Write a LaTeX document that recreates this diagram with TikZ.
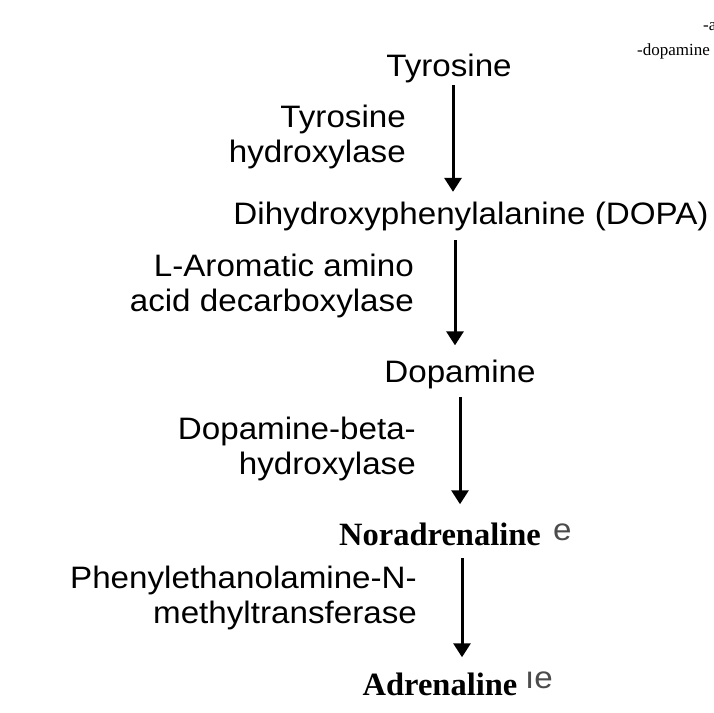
\documentclass[tikz,border=0pt]{standalone}
\usepackage{fontspec}
\setmainfont{Liberation Serif}
\newfontfamily\labelfont[FakeStretch=1.07]{Liberation Sans}
\usetikzlibrary{arrows.meta,positioning}

\begin{document}
\begin{tikzpicture}[x=1pt, y=-1pt,
  compound/.style={inner sep=0pt, font=\labelfont\fontsize{31}{34}\selectfont},
  hormone/.style={inner sep=0pt, font=\bfseries\fontsize{32.5}{36}\selectfont},
  enzyme/.style={inner sep=0pt, align=right, font=\labelfont\fontsize{31}{34.5}\selectfont},
  ghost/.style={inner sep=0pt, text=black!70, font=\labelfont\fontsize{31}{34}\selectfont},
  note/.style={inner sep=0pt, font=\fontsize{17}{20}\selectfont},
  flow/.style={-{Triangle[length=14pt,width=17pt]}, line width=3pt}]
\useasboundingbox[fill=white] (0,0) rectangle (714,712);
% pathway
\node[compound, anchor=base] (tyr)   at (449,76)  {Tyrosine};
\node[compound, anchor=base] (dopa)  at (471,224) {Dihydroxyphenylalanine (DOPA)};
\node[compound, anchor=base] (dopam) at (460,382) {Dopamine};
\node[hormone,  anchor=base] (nor)   at (440,545) {Noradrenaline};
\node[hormone,  anchor=base] (adr)   at (440,695) {Adrenaline};
% enzymes (base = last line)
\node[enzyme, anchor=base east] (th)   at (406,162) {Tyrosine\\hydroxylase};
\node[enzyme, anchor=base east] (aadc) at (414,311) {L-Aromatic amino\\acid decarboxylase};
\node[enzyme, anchor=base east] (dbh)  at (416,474) {Dopamine-beta-\\hydroxylase};
\node[enzyme, anchor=base east] (pnmt) at (417,623) {Phenylethanolamine-N-\\methyltransferase};
% leftovers of the scan
\node[ghost, anchor=base west] (nore) at (553,540) {e};
\node[ghost, anchor=base west] (adre) at (525,688) {ıe};
\node[note, anchor=base west] (na)    at (703,30)  {-a};
\node[note, anchor=base east] (nd)    at (710,55)  {-dopamine};
% steps
\draw[flow, shorten <=2.5pt, shorten >=9.5pt] ([xshift=4pt]tyr.south) -- ([xshift=4pt]tyr.south |- dopa.north);
\draw[flow, shorten <=9.5pt, shorten >=14pt] ([xshift=-16pt]dopa.south) -- ([xshift=-16pt]dopa.south |- dopam.north);
\draw[flow, shorten <=8.5pt, shorten >=18pt] (dopam.south) -- (dopam.south |- nor.north);
\draw[flow, shorten <=12.5pt, shorten >=15pt] ([xshift=22pt]nor.south) -- ([xshift=22pt]nor.south |- adr.north);
\end{tikzpicture}
\end{document}
